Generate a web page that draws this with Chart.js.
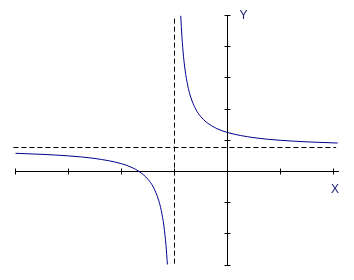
<!DOCTYPE html>
<html>
<head>
<meta charset="utf-8">
<script src="https://cdn.jsdelivr.net/npm/chart.js@4/dist/chart.umd.min.js"></script>
<style>
html,body{margin:0;padding:0;background:#fff;}
#wrap{width:354px;height:280px;}
</style>
</head>
<body>
<div id="wrap"><canvas id="c" width="354" height="280"></canvas></div>
<script>
// Axis ticks
const xTicks = [-4, -3, -2, -1, 0, 1, 2];
const yTicks = [-3, -2, -1, 0, 1, 2, 3, 4, 5];
const xAxisEnd = 2.1;
// Left branch of the curve
const leftX = [-4, -3.5, -3, -2.5, -2, -1.8, -1.667, -1.5, -1.4, -1.3, -1.25, -1.2, -1.16, -1.134];
const leftY = [0.583, 0.55, 0.5, 0.417, 0.25, 0.125, 0, -0.25, -0.5, -0.917, -1.25, -1.75, -2.375, -2.98];
// Right branch of the curve
const rightX = [-0.882, -0.86, -0.83, -0.8, -0.75, -0.7, -0.6, -0.5, -0.4, -0.2, 0, 0.5, 1, 1.5, 2.08];
const rightY = [4.99, 4.32, 3.69, 3.25, 2.75, 2.417, 2.0, 1.75, 1.583, 1.375, 1.25, 1.083, 1.0, 0.95, 0.912];
// Asymptotes
const hAsymY = 0.77;
const hAsymX = [-4.04, 2.05];
const vAsymX = -1;
const vAsymY = [4.9, -3];
const axisLabels = ['X', 'Y'];

const curveColor = '#000090';

function pts(xs, ys){ return xs.map((x,i)=>({x:x, y:ys[i]})); }

const axesPlugin = {
  id: 'axesPlugin',
  beforeDatasetsDraw(chart){
    const ctx = chart.ctx;
    const xs = chart.scales.x, ys = chart.scales.y;
    const r = v => Math.round(v - 0.5) + 0.5;
    const y0 = r(ys.getPixelForValue(0));
    const x0 = r(xs.getPixelForValue(0));
    ctx.save();
    ctx.strokeStyle = '#000';
    ctx.lineWidth = 1;
    ctx.beginPath();
    // x axis
    ctx.moveTo(Math.round(xs.getPixelForValue(xTicks[0])), y0);
    ctx.lineTo(Math.round(xs.getPixelForValue(xAxisEnd)), y0);
    xTicks.forEach(t => {
      const px = r(xs.getPixelForValue(t));
      ctx.moveTo(px, y0 - 3);
      ctx.lineTo(px, y0 + 3);
    });
    // y axis
    ctx.moveTo(x0, Math.round(ys.getPixelForValue(yTicks[yTicks.length-1])));
    ctx.lineTo(x0, Math.round(ys.getPixelForValue(yTicks[0])) + 1);
    yTicks.forEach(t => {
      const py = r(ys.getPixelForValue(t));
      ctx.moveTo(x0 - 3, py);
      ctx.lineTo(x0 + 3, py);
    });
    ctx.stroke();
    // labels
    ctx.fillStyle = '#1a1a70';
    ctx.font = '12px "Liberation Sans", Arial, sans-serif';
    ctx.textAlign = 'center';
    ctx.textBaseline = 'middle';
    ctx.fillText(axisLabels[0], xs.getPixelForValue(2.03), ys.getPixelForValue(-0.58));
    ctx.fillText(axisLabels[1], xs.getPixelForValue(0.3), ys.getPixelForValue(5.0));
    ctx.restore();
  }
};

new Chart(document.getElementById('c'), {
  type: 'line',
  data: {
    datasets: [
      { data: pts(hAsymX, [hAsymY, hAsymY]), borderColor: '#000', borderWidth: 1, borderDash: [5, 3], pointRadius: 0, tension: 0 },
      { data: pts([vAsymX, vAsymX], vAsymY), borderColor: '#000', borderWidth: 1, borderDash: [5, 3], pointRadius: 0, tension: 0 },
      { data: pts(leftX, leftY), borderColor: curveColor, borderWidth: 1, pointRadius: 0, cubicInterpolationMode: 'monotone' },
      { data: pts(rightX, rightY), borderColor: curveColor, borderWidth: 1, pointRadius: 0, cubicInterpolationMode: 'monotone' }
    ]
  },
  options: {
    responsive: false,
    devicePixelRatio: 1,
    animation: false,
    layout: { padding: { left: 15.5, right: 20.5, top: 15.5, bottom: 14.9 } },
    plugins: { legend: { display: false }, tooltip: { enabled: false }, title: { display: false } },
    scales: {
      x: { type: 'linear', min: -4, max: 2, display: false },
      y: { type: 'linear', min: -3, max: 5, display: false }
    },
    elements: { line: { fill: false } },
    clip: false
  },
  plugins: [axesPlugin]
});
</script>
</body>
</html>
